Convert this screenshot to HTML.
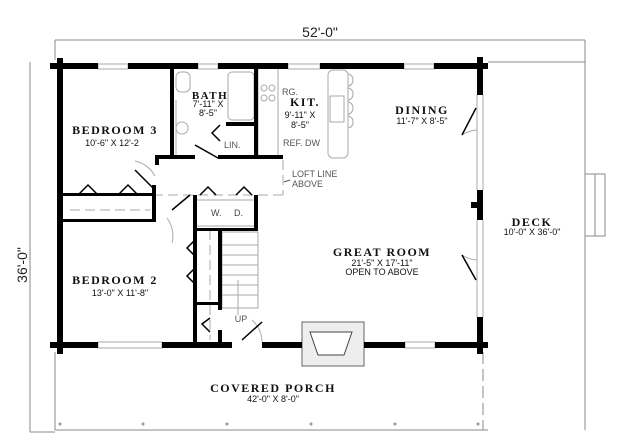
<!DOCTYPE html>
<html><head><style>
body{margin:0;background:#fff;}
svg{display:block;}
.t{font-family:"Liberation Serif",serif;font-weight:bold;letter-spacing:1.5px;}
.s{font-family:"Liberation Sans",sans-serif;font-size:9px;}
</style></head><body>
<svg width="625" height="443" viewBox="0 0 625 443" xmlns="http://www.w3.org/2000/svg">
<g stroke="#888" stroke-width="1" fill="none">
<line x1="55" y1="40" x2="585" y2="40"/>
<line x1="55" y1="40" x2="55" y2="60"/>
<line x1="585" y1="40" x2="585" y2="430"/>
<line x1="488" y1="62" x2="585" y2="62"/>
<line x1="30" y1="62" x2="30" y2="432"/>
<line x1="30" y1="432" x2="55" y2="432"/>
<line x1="55" y1="352" x2="55" y2="430"/>
<line x1="55" y1="430" x2="488" y2="430"/>
<line x1="483" y1="352" x2="483" y2="430" stroke-dasharray="12,5"/>
<rect x="585" y="174" width="20" height="62"/>
<line x1="595" y1="174" x2="595" y2="236"/>
</g>
<text x="320" y="37" font-family="Liberation Sans,sans-serif" font-size="14" fill="#222" text-anchor="middle">52'-0"</text>
<text transform="translate(27,265) rotate(-90)" font-family="Liberation Sans,sans-serif" font-size="14" fill="#222" text-anchor="middle">36'-0"</text>
<g fill="#999">
<circle cx="60" cy="424" r="1.5"/><circle cx="143" cy="424" r="1.5"/><circle cx="227" cy="424" r="1.5"/><circle cx="311" cy="424" r="1.5"/><circle cx="395" cy="424" r="1.5"/><circle cx="478" cy="424" r="1.5"/>
</g>
<!-- thin interior lines -->
<g stroke="#aaa" fill="none" stroke-width="1">
<rect x="98" y="64" width="30" height="5"/><rect x="198" y="64" width="20" height="5"/><rect x="288" y="64" width="32" height="5"/><rect x="404" y="64" width="30" height="5"/>
<rect x="98" y="342" width="64" height="6"/><rect x="405" y="342" width="30" height="6"/>
<line x1="477" y1="95" x2="477" y2="190"/><line x1="483" y1="95" x2="483" y2="190"/>
<line x1="477" y1="220" x2="477" y2="317"/><line x1="483" y1="220" x2="483" y2="317"/>
<rect x="228" y="72" width="26" height="48" rx="4"/>
<rect x="176" y="72" width="14" height="20" rx="5"/>
<circle cx="182" cy="128" r="6"/><line x1="176" y1="100" x2="176" y2="155"/>
<rect x="258" y="68" width="20" height="88"/><circle cx="264" cy="88" r="3"/><circle cx="272" cy="88" r="3"/><circle cx="264" cy="98" r="3"/><circle cx="272" cy="98" r="3"/>
<rect x="328" y="70" width="20" height="88" rx="5"/><rect x="330" y="96" width="14" height="26"/>
<path d="M348 74 a5 6 0 0 1 0 12 M348 88 a5 6 0 0 1 0 12 M348 102 a5 6 0 0 1 0 12 M348 116 a5 6 0 0 1 0 12"/>
<rect x="196" y="200" width="60" height="26"/>
<rect x="222" y="232" width="36" height="76"/>
<line x1="222" y1="245" x2="258" y2="245"/><line x1="222" y1="255" x2="258" y2="255"/><line x1="222" y1="265" x2="258" y2="265"/><line x1="222" y1="275" x2="258" y2="275"/><line x1="222" y1="285" x2="258" y2="285"/><line x1="222" y1="295" x2="258" y2="295"/>
<line x1="238" y1="280" x2="238" y2="315"/>
<path d="M262 342 a30 30 0 0 0 -10 -22"/>
<path d="M155 176 a30 30 0 0 0 -20 -15"/>
<path d="M172 243 a30 30 0 0 0 -5 -25"/>
<path d="M462 135 a30 30 0 0 1 15 -5"/>
<path d="M462 255 a30 30 0 0 0 15 5"/>
</g>
<g stroke="#aaa" fill="none" stroke-dasharray="10,5">
<line x1="63" y1="195" x2="283" y2="195"/><line x1="70" y1="210" x2="150" y2="210"/>
<line x1="210" y1="230" x2="210" y2="340"/><line x1="283" y1="160" x2="283" y2="195"/>
</g>
<!-- door swings & closets -->
<g stroke="#000" stroke-width="1.5" fill="none">
<line x1="135" y1="170" x2="155" y2="190"/><line x1="195" y1="145" x2="218" y2="158"/>
<line x1="172" y1="210" x2="190" y2="195"/><line x1="242" y1="340" x2="262" y2="322"/>
<line x1="462" y1="135" x2="476" y2="108"/><line x1="462" y1="255" x2="476" y2="280"/>
<path d="M78 195 l10 -10 l10 10 M118 195 l10 -10 l10 10 M200 195 l8 -8 l8 8 M236 195 l8 -8 l8 8"/>
<path d="M195 240 l-8 8 l8 8 M195 268 l-8 8 l8 8 M220 125 l-8 8 l8 8 M210 318 l-8 6 l8 8"/>
</g>
<!-- fireplace -->
<rect x="302" y="322" width="62" height="44" fill="#eee" stroke="#666"/>
<path d="M310 332 L352 332 L344 355 L318 355 Z" fill="#fff" stroke="#444"/>
<!-- walls -->
<g fill="#000">
<rect x="50" y="63" width="48" height="6"/><rect x="128" y="63" width="70" height="6"/><rect x="218" y="63" width="70" height="6"/><rect x="320" y="63" width="84" height="6"/><rect x="434" y="63" width="54" height="6"/>
<rect x="57" y="58" width="6" height="296"/>
<rect x="477" y="57" width="6" height="38"/><rect x="477" y="190" width="6" height="30"/><rect x="471" y="202" width="6" height="6"/><rect x="477" y="317" width="6" height="37"/>
<rect x="50" y="342" width="48" height="6"/><rect x="162" y="342" width="70" height="6"/><rect x="262" y="342" width="40" height="6"/><rect x="364" y="342" width="41" height="6"/><rect x="435" y="342" width="53" height="6"/>
<rect x="170" y="68" width="4" height="88"/><rect x="254" y="68" width="4" height="88"/>
<rect x="226" y="122" width="32" height="4"/>
<rect x="155" y="155" width="40" height="4"/><rect x="218" y="155" width="65" height="4"/>
<rect x="155" y="155" width="4" height="10"/>
<rect x="63" y="193" width="92" height="3"/><rect x="152" y="185" width="4" height="37"/><rect x="63" y="219" width="92" height="3"/>
<rect x="193" y="195" width="4" height="147"/><rect x="254" y="195" width="4" height="35"/>
<rect x="193" y="228" width="65" height="3"/><rect x="218" y="228" width="4" height="82"/>
<rect x="193" y="302" width="28" height="3"/><rect x="218" y="330" width="4" height="14"/>
</g>
<!-- labels -->
<g fill="#111">
<text class="t" x="115" y="134" font-size="12" text-anchor="middle">BEDROOM 3</text>
<text class="s" x="112" y="146" text-anchor="middle">10'-6" X 12'-2</text>
<text class="t" x="210" y="99" font-size="11" text-anchor="middle">BATH</text>
<text class="s" x="208" y="107" font-size="8" text-anchor="middle">7'-11" X</text>
<text class="s" x="208" y="116" font-size="8" text-anchor="middle">8'-5"</text>
<text class="s" x="224" y="148" fill="#555">LIN.</text>
<text class="s" x="282" y="95" fill="#555">RG.</text>
<text class="t" x="305" y="106" font-size="12" text-anchor="middle">KIT.</text>
<text class="s" x="300" y="118" text-anchor="middle">9'-11" X</text>
<text class="s" x="300" y="128" text-anchor="middle">8'-5"</text>
<text class="s" x="283" y="146" fill="#555">REF. DW</text>
<text class="s" x="292" y="177" fill="#555">LOFT LINE</text>
<text class="s" x="292" y="187" fill="#555">ABOVE</text>
<line x1="284" y1="182" x2="290" y2="180" stroke="#555"/>
<text class="t" x="422" y="114" font-size="12" text-anchor="middle">DINING</text>
<text class="s" x="422" y="124" text-anchor="middle">11'-7" X 8'-5"</text>
<text class="s" x="211" y="216" fill="#444">W.</text><text class="s" x="234" y="216" fill="#444">D.</text>
<text class="t" x="115" y="284" font-size="12" text-anchor="middle">BEDROOM 2</text>
<text class="s" x="120" y="296" text-anchor="middle">13'-0" X 11'-8"</text>
<text class="s" x="241" y="322" text-anchor="middle" fill="#555">UP</text>
<text class="t" x="382" y="256" font-size="12" text-anchor="middle">GREAT ROOM</text>
<text class="s" x="382" y="266" text-anchor="middle">21'-5" X 17'-11"</text>
<text class="s" x="382" y="275" font-size="7" text-anchor="middle">OPEN TO ABOVE</text>
<text class="t" x="532" y="226" font-size="12" text-anchor="middle">DECK</text>
<text class="s" x="532" y="235" text-anchor="middle">10'-0" X 36'-0"</text>
<text class="t" x="273" y="392" font-size="12" text-anchor="middle">COVERED PORCH</text>
<text class="s" x="273" y="402" text-anchor="middle">42'-0" X 8'-0"</text>
</g>
</svg>
</body></html>
